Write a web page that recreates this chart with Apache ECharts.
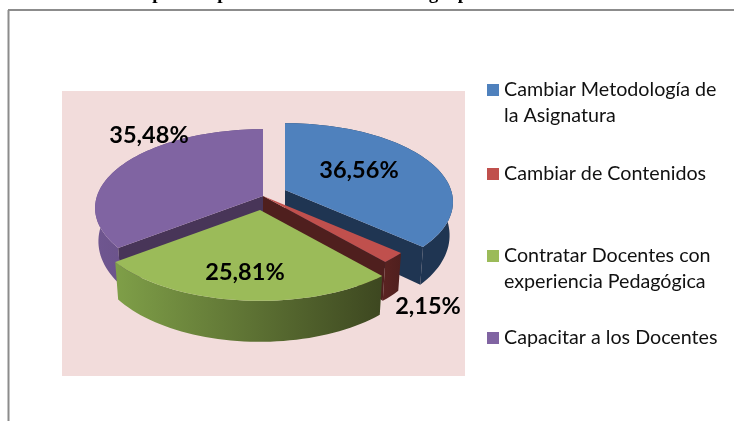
<!DOCTYPE html>
<html>
<head>
<meta charset="utf-8">
<style>html,body{margin:0;padding:0;background:#fff}#chart{width:734px;height:421px}</style>
<script src="https://cdn.jsdelivr.net/npm/echarts@6/dist/echarts.min.js"></script>
</head>
<body>
<div id="chart"></div>
<script>
// data
const categories = ['Cambiar Metodología de\nla Asignatura', 'Cambiar de Contenidos', 'Contratar Docentes con\nexperiencia Pedagógica', 'Capacitar a los Docentes'];
const values = [36.56, 2.15, 25.81, 35.48];
const valueLabels = ['36,56%', '2,15%', '25,81%', '35,48%'];

const colors = ['#4f81bd', '#c0504d', '#9bbb59', '#8064a2'];
const cutColors = ['#1f3552', '#4f1f1e', '#3f4a20', '#483558'];
const sideColors = [['#1f3552', '#1f3552'], ['#5a2321', '#4f1f1e'], ['#7f9f48', '#3d4720'], ['#6f5690', '#5a4674']];
// slice tip on screen (exploded pie), label centre, legend top
const tips = [[285, 190], [263, 196], [260, 210], [263, 196]];
const labelPos = [[359, 170], [428, 306], [245, 272], [149, 135]];
const legendTop = [77, 161, 243, 325];
const drawOrder = [0, 3, 1, 2];

// pie perspective
const RX = 166, RY = 77, K = 0.152;
const total = values.reduce((a, b) => a + b, 0);

function topPoint(tip, deg) {
  const a = deg * Math.PI / 180, u = Math.sin(a), v = Math.cos(a);
  const s = 1 / (1 + K * v);
  return [tip[0] + RX * u * s, tip[1] - RY * v * s];
}
function bottomPoint(tip, deg) {
  const a = deg * Math.PI / 180, v = Math.cos(a);
  const p = topPoint(tip, deg);
  return [tip[0] + (p[0] - tip[0]) * 0.98, p[1] + 32 - 9 * v];
}
function arc(tip, from, to, fn) {
  const pts = [], n = Math.max(4, Math.ceil((to - from) / 2));
  for (let i = 0; i <= n; i++) pts.push(fn(tip, from + (to - from) * i / n));
  return pts;
}
function poly(points, fill) {
  return {type: 'polygon', shape: {points: points}, style: {fill: fill}};
}

function sliceRender(idx) {
  return function (params, api) {
    let start = 0;
    for (let i = 0; i < idx; i++) start += values[i];
    const from = start / total * 360;
    const to = from + api.value(0) / total * 360;
    const tip = tips[idx];
    const kids = [];
    // outer wall
    kids.push(poly(arc(tip, from, to, topPoint).concat(arc(tip, from, to, bottomPoint).reverse()),
      new echarts.graphic.LinearGradient(0, 0, 1, 0, [
        {offset: 0, color: sideColors[idx][0]},
        {offset: 1, color: sideColors[idx][1]}
      ])));
    // cut walls, only the ones turned to the viewer
    const cut = function (deg) {
      return poly([tip, topPoint(tip, deg), bottomPoint(tip, deg), [tip[0], tip[1] + 32]], cutColors[idx]);
    };
    if (Math.sin(to * Math.PI / 180) > 0.01) kids.push(cut(to));
    if (Math.sin(from * Math.PI / 180) < -0.01) kids.push(cut(from));
    // top face
    kids.push(poly([tip].concat(arc(tip, from, to, topPoint)), colors[idx]));
    kids.push({
      type: 'text', x: labelPos[idx][0], y: labelPos[idx][1], z2: 10,
      style: {text: valueLabels[idx], fill: '#000', font: 'bold 23.5px Lato', align: 'center', verticalAlign: 'middle'}
    });
    return {type: 'group', children: kids};
  };
}

const chart = echarts.init(document.getElementById('chart'), null, {renderer: 'canvas'});
const series = drawOrder.map(function (idx) {
  return {
    type: 'custom',
    name: categories[idx],
    coordinateSystem: 'none',
    animation: false,
    silent: true,
    itemStyle: {color: colors[idx]},
    data: [[values[idx]]],
    renderItem: sliceRender(idx)
  };
});

chart.setOption({
  animation: false,
  backgroundColor: '#fff',
  // the title line of the page is cut by the crop, only its descenders show
  title: {
    text: 'Propuestas para cambiar la Metodología por',
    left: 118, top: -20,
    textStyle: {fontFamily: 'Liberation Serif', fontWeight: 'bold', fontSize: 19, color: '#000'}
  },
  graphic: [
    {type: 'line', z: -2, shape: {x1: 8, y1: 10, x2: 734, y2: 10}, style: {stroke: '#8c8c8c', lineWidth: 2}},
    {type: 'line', z: -2, shape: {x1: 8.5, y1: 10, x2: 8.5, y2: 421}, style: {stroke: '#8c8c8c', lineWidth: 2}},
    {type: 'rect', z: -1, shape: {x: 62, y: 91, width: 403, height: 285}, style: {fill: '#f2dcdb'}}
  ],
  legend: categories.map(function (name, i) {
    const twoLines = name.indexOf('\n') >= 0;
    return {
      data: [name],
      left: 487, top: legendTop[i], padding: 0,
      itemWidth: 12, itemHeight: twoLines ? 38 : 12, itemGap: 0,
      // two-line entries keep the square on the first line
      icon: twoLines ? 'path://M0 0H12V12H0Z M0 38H0.01V38Z' : 'rect',
      selectedMode: false,
      textStyle: {fontFamily: 'Lato', fontSize: 19.7, color: '#111', lineHeight: 26, padding: [0, 0, 0, 0]}
    };
  }),
  series: series
});
</script>
</body>
</html>
